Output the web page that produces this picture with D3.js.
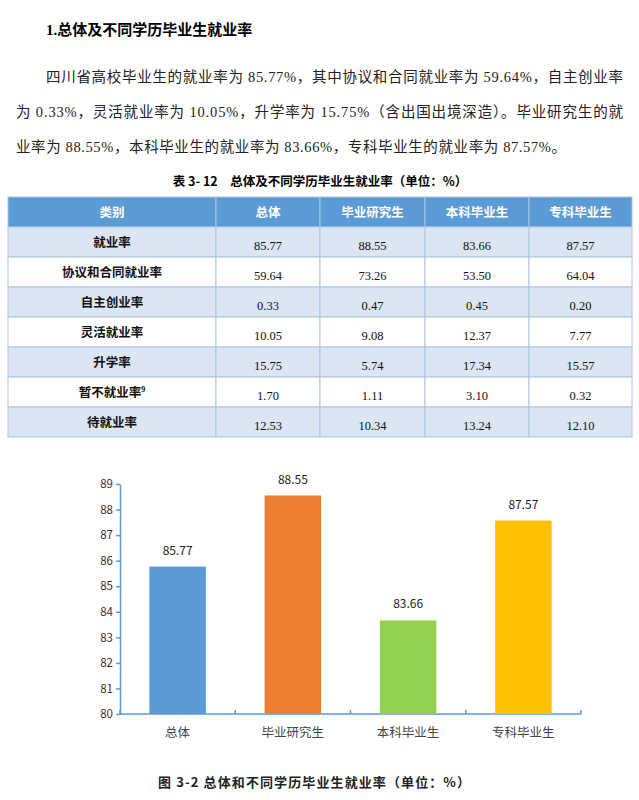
<!DOCTYPE html>
<html><head><meta charset="utf-8">
<script src="https://cdn.jsdelivr.net/npm/d3@7"></script>
<style>body{margin:0;background:#fff}</style></head>
<body><svg id="s" width="639" height="800"></svg>
<script>
const tableHeaders = ["类别","总体","毕业研究生","本科毕业生","专科毕业生"];
const rowLabels = ["就业率","协议和合同就业率","自主创业率","灵活就业率","升学率","暂不就业率","待就业率"];
const colTotal = ["85.77","59.64","0.33","10.05","15.75","1.70","12.53"];
const colGrad = ["88.55","73.26","0.47","9.08","5.74","1.11","10.34"];
const colUndergrad = ["83.66","53.50","0.45","12.37","17.34","3.10","13.24"];
const colJunior = ["87.57","64.04","0.20","7.77","15.57","0.32","12.10"];
const categories = ["总体","毕业研究生","本科毕业生","专科毕业生"];
const values = [85.77,88.55,83.66,87.57];
const yTicks = [80,81,82,83,84,85,86,87,88,89];
const colors = ["#5b9bd5","#ed7d31","#92d050","#ffc000"];

const svg = d3.select("#s");
const serif = "'Liberation Serif','Noto Sans CJK SC',serif";
const cjk = "'Noto Sans CJK SC',sans-serif";
svg.append("text").attr("x",46).attr("y",35).attr("font-family",serif).attr("font-weight","bold").attr("font-size",15).text("1.总体及不同学历毕业生就业率");
const para = [[46,"四川省高校毕业生的就业率为 85.77%，其中协议和合同就业率为 59.64%，自主创业率",623],[16,"为 0.33%，灵活就业率为 10.05%，升学率为 15.75%（含出国出境深造）。毕业研究生的就",623],[16,"业率为 88.55%，本科毕业生的就业率为 83.66%，专科毕业生的就业率为 87.57%。",566]];
para.forEach((p,i)=>svg.append("text").attr("x",p[0]).attr("y",82+i*35).attr("font-family",serif).attr("font-size",14.5).attr("fill","#222").attr("textLength",p[2]-p[0]).attr("lengthAdjust","spacing").text(p[1]));
svg.append("text").attr("x",320).attr("y",186).attr("text-anchor","middle").attr("font-family",cjk).attr("font-weight","bold").attr("font-size",12.5).text("表 3- 12　总体及不同学历毕业生就业率（单位：%）");

// table
const colEdges = [8,216,320,425,529,632];
const cols = [colTotal,colGrad,colUndergrad,colJunior];
const rowY = d3.scaleBand().domain(d3.range(rowLabels.length+1)).range([197,437]);
const tg = svg.append("g");
d3.range(rowLabels.length+1).forEach(r=>{
  for(let c=0;c<5;c++){
    const x0=colEdges[c], x1=colEdges[c+1];
    tg.append("rect").attr("x",x0).attr("y",rowY(r)).attr("width",x1-x0).attr("height",rowY.bandwidth())
      .attr("fill", r===0?"#5b9bd5":(r%2===1?"#dce6f2":"#fff")).attr("stroke","#a9c4e4").attr("stroke-width",1);
    let txt = r===0?tableHeaders[c]:(c===0?rowLabels[r-1]:cols[c-1][r-1]);
    const t = tg.append("text").attr("x",(x0+x1)/2).attr("y",rowY(r)+rowY.bandwidth()/2+5).attr("text-anchor","middle")
      .attr("font-size",12.5).attr("fill",r===0?"#fff":"#111")
      .attr("font-family",(r===0||c===0)?cjk:serif).attr("font-weight",(r===0||c===0)?"bold":"normal").text(txt);
    if(r>0&&c>0) t.attr("y",rowY(r)+rowY.bandwidth()/2+8);
    if(r===6&&c===0){ t.text(""); t.append("tspan").text(txt); t.append("tspan").attr("dy",-5).attr("font-size",8).attr("font-family",serif).text("9"); }
  }
});

// chart
const x = d3.scaleBand().domain(categories).range([120,581]).paddingInner(0.51).paddingOuter(0.255);
const y = d3.scaleLinear().domain([80,89]).range([714,484]);
const axc="#5b9bd5";
const ya = svg.append("g").attr("transform","translate(120,0)").call(d3.axisLeft(y).tickValues(yTicks).tickSize(4).tickSizeOuter(0));
ya.selectAll("path,line").attr("stroke",axc).attr("stroke-width",1.5);
ya.selectAll("text").attr("font-family",cjk).attr("font-size",11.5).attr("fill","#333");
const band = x.step();
const xa = svg.append("g").attr("transform","translate(0,714)");
xa.append("line").attr("x1",120).attr("x2",581).attr("stroke",axc).attr("stroke-width",1.5);
d3.range(5).forEach(i=>xa.append("line").attr("x1",120+i*band).attr("x2",120+i*band).attr("y1",0).attr("y2",-4).attr("stroke",axc).attr("stroke-width",1.5));
svg.selectAll(".bar").data(values).join("rect").attr("x",(d,i)=>x(categories[i])).attr("width",x.bandwidth())
  .attr("y",d=>y(d)).attr("height",d=>714-y(d)).attr("fill",(d,i)=>colors[i]);
svg.selectAll(".vl").data(values).join("text").attr("x",(d,i)=>x(categories[i])+x.bandwidth()/2).attr("y",d=>y(d)-12)
  .attr("text-anchor","middle").attr("font-family",cjk).attr("font-size",12).attr("fill","#222").text(d=>d.toFixed(2));
svg.selectAll(".cl").data(categories).join("text").attr("x",d=>x(d)+x.bandwidth()/2).attr("y",737)
  .attr("text-anchor","middle").attr("font-family",cjk).attr("font-size",12.5).attr("fill","#444").text(d=>d);
svg.append("text").attr("x",158).attr("y",787).attr("font-family",cjk).attr("font-weight","bold").attr("font-size",13).attr("fill","#222").attr("textLength",312).attr("lengthAdjust","spacing").text("图 3-2 总体和不同学历毕业生就业率（单位：%）");
</script></body></html>
